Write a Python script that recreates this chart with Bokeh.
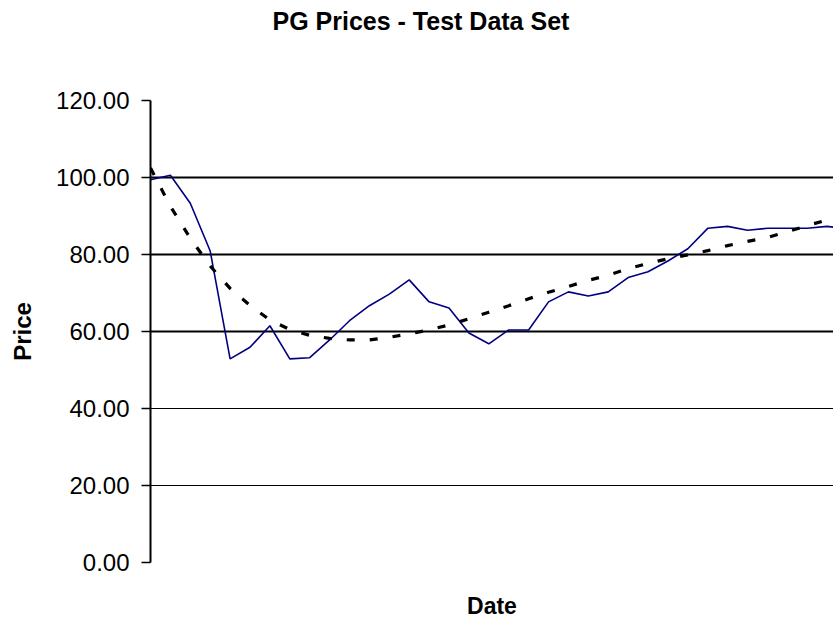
from bokeh.plotting import figure
from bokeh.models import FixedTicker, NumeralTickFormatter, Grid, Range1d, Title
from bokeh.embed import file_html
from bokeh.resources import INLINE

# Period index (dates are not labelled on the chart)
period = list(range(36))

# PG closing prices
price = [99.4, 100.6, 93.3, 80.9, 52.9, 55.9, 61.5, 52.9, 53.2, 57.8,
         62.8, 66.7, 69.7, 73.4, 67.7, 66.1, 59.6, 56.8, 60.4, 60.4,
         67.7, 70.3, 69.2, 70.3, 74.0, 75.5, 78.3, 81.5, 86.8, 87.3,
         86.3, 86.8, 86.8, 86.8, 87.3, 86.7]

# Trend line values
trend = [102.5, 92.5, 84.2, 77.0, 71.2, 66.8, 63.0, 60.5, 59.0, 58.2,
         57.8, 57.8, 58.5, 59.4, 60.4, 61.7, 63.3, 65.0, 66.7, 68.5,
         70.2, 71.7, 73.3, 74.6, 76.3, 77.7, 78.9, 79.9, 81.0, 82.3,
         83.4, 84.4, 85.9, 87.5, 89.0, 90.5]

y_ticks = [0, 20, 40, 60, 80, 100, 120]
grid_major = [60, 80, 100]
grid_minor = [20, 40]

FONT = "Liberation Sans"

p = figure(width=833, height=621, output_backend="svg", toolbar_location=None,
           x_range=Range1d(0, 34.32), y_range=Range1d(0, 120),
           min_border_left=150, min_border_right=0, min_border_top=100,
           min_border_bottom=56, background_fill_color="white",
           border_fill_color="white")
p.outline_line_color = None

# spacer panel between the frame and the title
spacer = Title(text=" ", text_font_size="10px", standoff=49)
p.add_layout(spacer, "above")

p.title.text = "PG Prices - Test Data Set"
p.title.align = "left"
p.title.offset = 122
p.title.standoff = 8
p.title.text_font = FONT
p.title.text_font_size = "25px"
p.title.text_font_style = "bold"
p.title.text_color = "black"

p.xgrid.visible = False
p.ygrid.visible = False
p.add_layout(Grid(dimension=1, ticker=FixedTicker(ticks=grid_major),
                  grid_line_color="black", grid_line_width=2))
p.add_layout(Grid(dimension=1, ticker=FixedTicker(ticks=grid_minor),
                  grid_line_color="black", grid_line_width=1))

ya = p.yaxis[0]
ya.ticker = FixedTicker(ticks=y_ticks)
ya.formatter = NumeralTickFormatter(format="0.00")
ya.minor_tick_line_color = None
ya.major_tick_in = 0
ya.major_tick_out = 9
ya.major_tick_line_width = 1.5
ya.axis_line_width = 2
ya.axis_line_color = "black"
ya.major_tick_line_color = "black"
ya.major_label_standoff = 12
ya.major_label_text_font = FONT
ya.major_label_text_font_size = "24px"
ya.major_label_text_color = "black"
ya.axis_label = "Price"
ya.axis_label_text_font = FONT
ya.axis_label_text_font_size = "24px"
ya.axis_label_text_font_style = "bold"
ya.axis_label_text_color = "black"
ya.axis_label_standoff = 17

xa = p.xaxis[0]
xa.ticker = FixedTicker(ticks=[])
xa.axis_line_color = None
xa.major_tick_line_color = None
xa.minor_tick_line_color = None
xa.major_tick_in = 0
xa.major_tick_out = 0
xa.major_label_standoff = 0
xa.axis_label = "Date"
xa.axis_label_text_font = FONT
xa.axis_label_text_font_size = "23px"
xa.axis_label_text_font_style = "bold"
xa.axis_label_text_color = "black"
xa.axis_label_standoff = 30

p.line(period, price, line_color="#000080", line_width=1.6)
p.line(period, trend, line_color="black", line_width=3.2, line_dash="8 15")

open("out.html", "w").write(file_html(p, INLINE))
